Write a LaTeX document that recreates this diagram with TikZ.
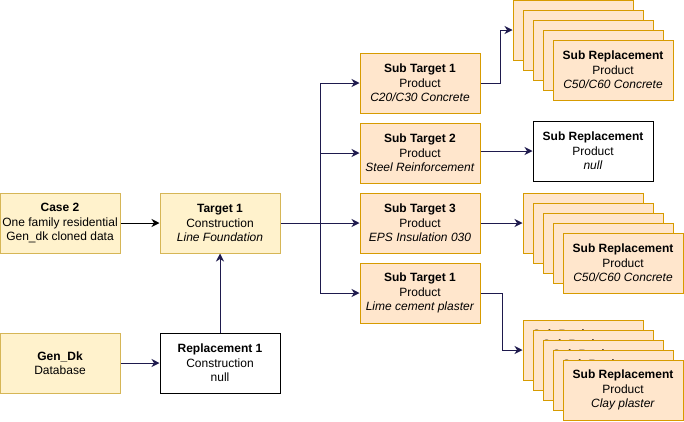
\documentclass[tikz,border=0pt]{standalone}
\usepackage{fontspec}
\setmainfont{Liberation Sans}
\usetikzlibrary{arrows.meta}
\definecolor{casefill}{HTML}{FFF2CC}
\definecolor{caseline}{HTML}{D6B656}
\definecolor{subfill}{HTML}{FFE6CC}
\definecolor{subline}{HTML}{D79B00}
\definecolor{navy}{HTML}{1E1A4D}
\tikzset{
  >={Stealth[length=8pt,width=8pt,inset=2.5pt]},
  box/.style={draw,line width=1pt,minimum width=120pt,minimum height=60pt,
    inner sep=0pt,align=center,font=\fontsize{12}{14.5}\selectfont},
  casebox/.style={box,fill=casefill,draw=caseline},
  subbox/.style={box,fill=subfill,draw=subline},
  plainbox/.style={box,fill=white,draw=black},
  link/.style={->,navy,line width=1pt},
}
\newcommand{\subrep}[1]{{\bfseries Sub Replacement}\\Product\\\textit{#1}}

\begin{document}
\begin{tikzpicture}[x=1pt,y=-1pt]
        \useasboundingbox (0,0) rectangle (684,421);
        % left column
        \node[casebox] (case) at (60,223) {{\bfseries Case 2}\\One family residential\\Gen\_dk cloned data};
        \node[casebox] (gendk) at (60,363) {{\bfseries Gen\_Dk}\\Database};
        \node[casebox] (target) at (220,223) {{\bfseries Target 1}\\Construction\\\textit{Line Foundation}};
        \node[plainbox] (repl) at (220,363) {{\bfseries Replacement 1}\\Construction\\null};
        % sub targets
        \node[subbox] (st1) at (420,83) {{\bfseries Sub Target 1}\\Product\\\textit{C20/C30 Concrete}};
        \node[subbox] (st2) at (420,153) {{\bfseries Sub Target 2}\\Product\\\textit{Steel Reinforcement}};
        \node[subbox] (st3) at (420,223) {{\bfseries Sub Target 3}\\Product\\\textit{EPS Insulation 030}};
        \node[subbox] (st4) at (420,293) {{\bfseries Sub Target 1}\\Product\\\textit{Lime cement plaster}};
        \node[plainbox] (srnull) at (593,151) {\subrep{null}};
        % stacked replacements
        \foreach \k in {1,...,5}
          \node[subbox] (sra\k) at (563+10*\k,20+10*\k) {\subrep{C50/C60 Concrete}};
        \foreach \k in {1,...,5}
          \node[subbox] (srb\k) at (573+10*\k,213+10*\k) {\subrep{C50/C60 Concrete}};
        \foreach \k in {1,...,5}
          \node[subbox] (src\k) at (573+10*\k,340+10*\k) {\subrep{Clay plaster}};
        % connectors
        \coordinate (bus) at (320,223);
        \draw[->,line width=1pt] (case) -- (target);
        \draw[link] (gendk) -- (repl);
        \draw[link] (repl) -- (target);
        \draw[link] (target) -- (bus) |- (st1);
        \draw[link] (bus) |- (st2);
        \draw[link] (bus) -- (st3);
        \draw[link] (bus) |- (st4);
        \draw[link] (st1.east) -- ++(20,0) |- (sra1);
        \draw[link] (st2.east |- srnull) -- (srnull);
        \draw[link] (st3) -- (srb1);
        \draw[link] (st4.east) -- ++(22,0) |- (src1);
      \end{tikzpicture}
\end{document}
